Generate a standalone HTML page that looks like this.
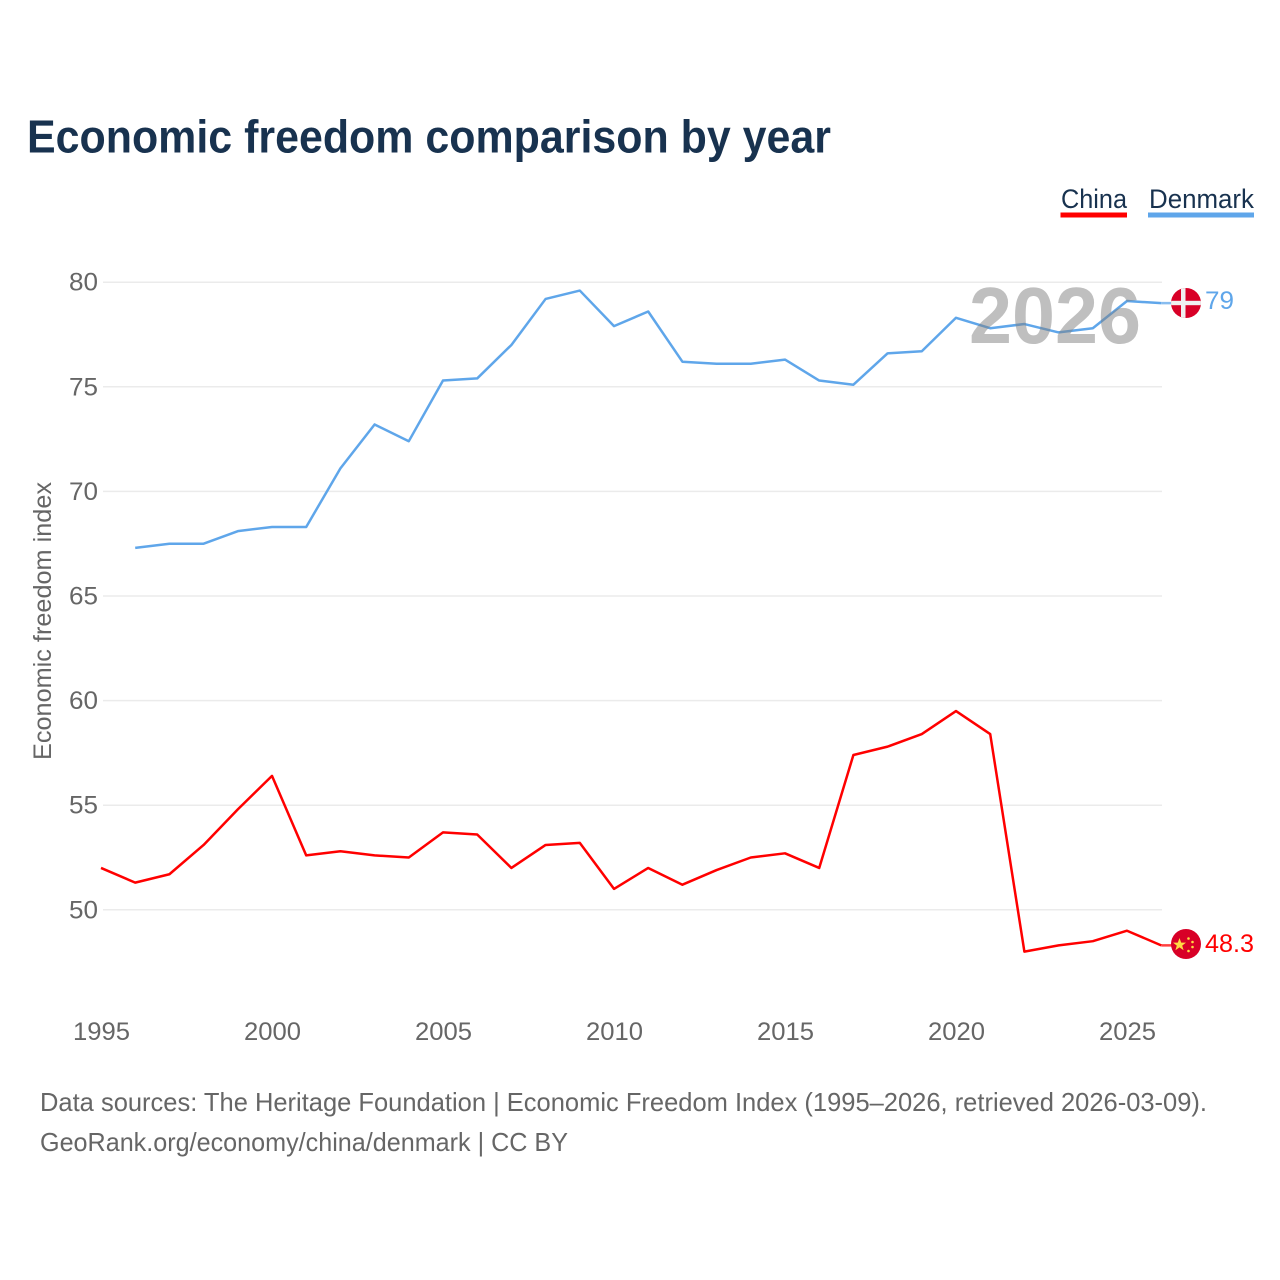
<!DOCTYPE html>
<html lang="en">
<head>
<meta charset="utf-8">
<title>Economic freedom comparison by year</title>
<style>
html,body{margin:0;padding:0;background:#fff;width:1280px;height:1280px;overflow:hidden}
svg{display:block}
text{font-family:"Liberation Sans",sans-serif}
</style>
</head>
<body>
<svg id="chart" xmlns="http://www.w3.org/2000/svg" width="1280" height="1280" viewBox="0 0 1280 1280">
  <rect width="1280" height="1280" fill="#fff"/>
  <text x="27" y="152.5" font-size="46" font-weight="700" fill="#18324f" textLength="804" lengthAdjust="spacingAndGlyphs">Economic freedom comparison by year</text>

  <g>
    <text x="1061" y="208" font-size="27" fill="#18324f" textLength="66" lengthAdjust="spacingAndGlyphs">China</text>
    <rect x="1060.5" y="212.5" width="66.5" height="5" fill="#ff0000"/>
  </g>
  <g>
    <text x="1149" y="208" font-size="27" fill="#18324f" textLength="105" lengthAdjust="spacingAndGlyphs">Denmark</text>
    <rect x="1148" y="212.5" width="106" height="5" fill="#5fa6ea"/>
  </g>

  <g id="grid"></g>
  <g id="yticks"></g>
  <g id="xticks"></g>

  <text transform="translate(51,760) rotate(-90)" font-size="25" fill="#666" textLength="278" lengthAdjust="spacingAndGlyphs">Economic freedom index</text>

  <g id="series"></g>

  <text x="969" y="343" font-size="80" font-weight="700" fill="#808080" fill-opacity="0.5" textLength="172" lengthAdjust="spacingAndGlyphs">2026</text>

  <g>
    <clipPath id="dk-clip"><circle cx="1186" cy="303" r="15"/></clipPath>
    <circle cx="1186" cy="303" r="15" fill="#d80027"/>
    <g clip-path="url(#dk-clip)" fill="#f0f0f0">
      <rect x="1181" y="288" width="4.5" height="30"/>
      <rect x="1171" y="300.8" width="30" height="4.4"/>
    </g>
  </g>
  <g>
    <circle cx="1186" cy="944" r="15" fill="#d80027"/>
    <polygon fill="#ffda44" points="1179.5,938 1181.2,942.6 1186,942.6 1182.2,945.6 1183.6,950.2 1179.5,947.4 1175.4,950.2 1176.8,945.6 1173,942.6 1177.8,942.6"/>
    <g fill="#ffda44">
      <circle cx="1188.5" cy="938.5" r="1.3"/><circle cx="1192.5" cy="942" r="1.3"/><circle cx="1192.5" cy="947" r="1.3"/><circle cx="1188.5" cy="951" r="1.3"/>
    </g>
  </g>

  <text id="label-denmark" x="1205" y="309" font-size="25" fill="#5fa6ea" textLength="29" lengthAdjust="spacingAndGlyphs">79</text>
  <text id="label-china" x="1205" y="952" font-size="25" fill="#ff0000" textLength="49" lengthAdjust="spacingAndGlyphs">48.3</text>

  <text x="40" y="1111" font-size="26" fill="#666" textLength="1167" lengthAdjust="spacingAndGlyphs">Data sources: The Heritage Foundation | Economic Freedom Index (1995–2026, retrieved 2026-03-09).</text>
  <text x="40" y="1151" font-size="26" fill="#666" textLength="528" lengthAdjust="spacingAndGlyphs">GeoRank.org/economy/china/denmark | CC BY</text>
</svg>
<script>
const yTickValues = [50, 55, 60, 65, 70, 75, 80];
const xTickValues = [1995, 2000, 2005, 2010, 2015, 2020, 2025];
const chinaYears = [1995,1996,1997,1998,1999,2000,2001,2002,2003,2004,2005,2006,2007,2008,2009,2010,2011,2012,2013,2014,2015,2016,2017,2018,2019,2020,2021,2022,2023,2024,2025,2026];
const chinaValues = [52,51.3,51.7,53.1,54.8,56.4,52.6,52.8,52.6,52.5,53.7,53.6,52,53.1,53.2,51,52,51.2,51.9,52.5,52.7,52,57.4,57.8,58.4,59.5,58.4,48,48.3,48.5,49,48.3];
const denmarkYears = [1996,1997,1998,1999,2000,2001,2002,2003,2004,2005,2006,2007,2008,2009,2010,2011,2012,2013,2014,2015,2016,2017,2018,2019,2020,2021,2022,2023,2024,2025,2026];
const denmarkValues = [67.3,67.5,67.5,68.1,68.3,68.3,71.1,73.2,72.4,75.3,75.4,77,79.2,79.6,77.9,78.6,76.2,76.1,76.1,76.3,75.3,75.1,76.6,76.7,78.3,77.8,78,77.6,77.8,79.1,79];

const NS = 'http://www.w3.org/2000/svg';
const xScale = function (year) { return 101 + (year - 1995) * 34.2; };
const yScale = function (value) { return 909.8 - (value - 50) * 20.92; };

const grid = document.getElementById('grid');
const yticks = document.getElementById('yticks');
const xticks = document.getElementById('xticks');
const seriesGroup = document.getElementById('series');

yTickValues.forEach(function (v) {
  const line = document.createElementNS(NS, 'line');
  
  
  line.setAttribute('x1', 103);
  line.setAttribute('x2', 1162);
  line.setAttribute('y1', yScale(v));
  line.setAttribute('y2', yScale(v));
  line.setAttribute('stroke', '#ebebeb');
  line.setAttribute('stroke-width', '1.5');
  grid.appendChild(line);

  const label = document.createElementNS(NS, 'text');
  
  
  label.setAttribute('x', 98);
  label.setAttribute('y', yScale(v) + 8.5);
  label.setAttribute('text-anchor', 'end');
  label.setAttribute('font-size', '25');
  label.setAttribute('fill', '#666');
  label.setAttribute('textLength', '29');
  label.setAttribute('lengthAdjust', 'spacingAndGlyphs');
  label.textContent = v;
  yticks.appendChild(label);
});

xTickValues.forEach(function (year) {
  const label = document.createElementNS(NS, 'text');
  
  
  label.setAttribute('x', xScale(year) + 0.5);
  label.setAttribute('y', 1040);
  label.setAttribute('text-anchor', 'middle');
  label.setAttribute('font-size', '25');
  label.setAttribute('fill', '#666');
  label.setAttribute('textLength', '57');
  label.setAttribute('lengthAdjust', 'spacingAndGlyphs');
  label.textContent = year;
  xticks.appendChild(label);
});

function toPoints(years, values) {
  return years.map(function (year, i) {
    return xScale(year).toFixed(2) + ',' + yScale(values[i]).toFixed(2);
  }).join(' ');
}

function drawConnector(name, color, lastValue, endX) {
  const connector = document.createElementNS(NS, 'line');
  
  
  connector.setAttribute('x1', xScale(2026));
  connector.setAttribute('x2', endX);
  connector.setAttribute('y1', yScale(lastValue));
  connector.setAttribute('y2', yScale(lastValue));
  connector.setAttribute('stroke', color);
  connector.setAttribute('stroke-width', '2.5');
  connector.setAttribute('stroke-opacity', '0.75');
  seriesGroup.appendChild(connector);
}

function drawSeries(name, color, years, values) {
  const line = document.createElementNS(NS, 'polyline');
  
  
  line.setAttribute('points', toPoints(years, values));
  line.setAttribute('fill', 'none');
  line.setAttribute('stroke', color);
  line.setAttribute('stroke-width', '2.5');
  line.setAttribute('stroke-linejoin', 'round');
  seriesGroup.appendChild(line);
}

drawConnector('connector-denmark', '#5fa6ea', denmarkValues[denmarkValues.length - 1], 1171);
drawConnector('connector-china', '#ff0000', chinaValues[chinaValues.length - 1], 1172);
drawSeries('line-denmark', '#5fa6ea', denmarkYears, denmarkValues);
drawSeries('line-china', '#ff0000', chinaYears, chinaValues);

const dkLabel = document.getElementById('label-denmark');
dkLabel.textContent = denmarkValues[denmarkValues.length - 1];
const cnLabel = document.getElementById('label-china');
cnLabel.textContent = chinaValues[chinaValues.length - 1];
</script>
</body>
</html>
